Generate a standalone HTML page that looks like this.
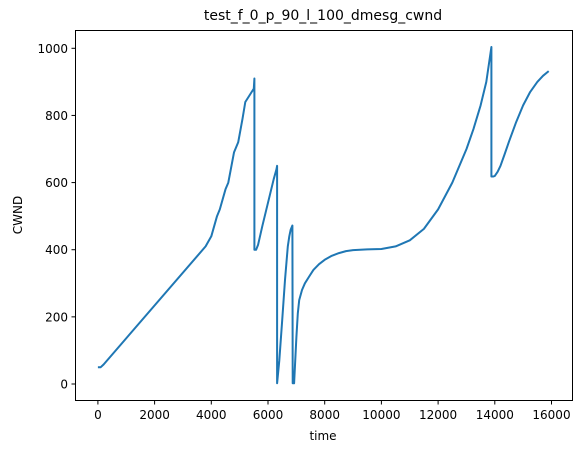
<!DOCTYPE html>
<html><head><meta charset="utf-8"><style>
html,body{margin:0;padding:0;background:#fff;}
svg text{font-family:"DejaVu Sans","Liberation Sans",sans-serif;fill:#000;}
</style></head><body>
<svg id="chart" width="582" height="453" viewBox="0 0 582 453" xmlns="http://www.w3.org/2000/svg">
<text x="323" y="20" font-size="14" text-anchor="middle">test_f_0_p_90_l_100_dmesg_cwnd</text>
<rect x="75.5" y="30.5" width="497" height="370" fill="none" stroke="#000" stroke-width="1"/>
<g id="xt"></g><g id="yt"></g>
<path id="line" fill="none" stroke="#1f77b4" stroke-width="2" stroke-linejoin="round"/>
<text x="323" y="440" font-size="12" text-anchor="middle">time</text>
<text x="0" y="0" font-size="12" text-anchor="middle" transform="translate(22,215) rotate(-90)">CWND</text>
</svg>
<script>
const times=[0,100,200,3800,4000,4200,4300,4500,4600,4800,4950,5100,5200,5500,5520,5520,5580,5650,5800,6000,6200,6300,6320,6320,6400,6500,6600,6700,6750,6800,6860,6870,6920,6950,7000,7050,7100,7200,7300,7450,7600,7800,8000,8250,8500,8750,9000,9500,10000,10500,11000,11500,12000,12500,13000,13250,13500,13700,13880,13880,13950,14000,14100,14200,14350,14500,14750,15000,15250,15500,15700,15900];
const cwnd=[50,50,58,410,440,500,520,580,600,690,720,790,840,880,910,400,400,415,470,540,610,640,650,2,70,190,310,410,440,460,472,2,2,50,140,210,250,280,300,320,340,357,370,382,390,396,399,401,402,410,428,462,520,600,700,760,830,900,1004,618,618,620,632,650,685,722,780,830,870,900,918,932];
const xTicks=[0,2000,4000,6000,8000,10000,12000,14000,16000];
const yTicks=[0,200,400,600,800,1000];
const sx=v=>97.9+v*0.028350;
const sy=v=>384-v*0.3357;
const NS="http://www.w3.org/2000/svg";
const xt=document.getElementById('xt'),yt=document.getElementById('yt');
xTicks.forEach(t=>{
 const l=document.createElementNS(NS,'line');
 
 
 l.setAttribute('x1',sx(t));l.setAttribute('x2',sx(t));l.setAttribute('y1',400.5);l.setAttribute('y2',404.5);l.setAttribute('stroke','#000');
 xt.appendChild(l);
 const tx=document.createElementNS(NS,'text');
 
 
 tx.setAttribute('x',sx(t));tx.setAttribute('y',419);tx.setAttribute('font-size','12');tx.setAttribute('text-anchor','middle');
 tx.textContent=t;xt.appendChild(tx);
});
yTicks.forEach(t=>{
 const l=document.createElementNS(NS,'line');
 
 
 l.setAttribute('x1',71.5);l.setAttribute('x2',75.5);l.setAttribute('y1',sy(t));l.setAttribute('y2',sy(t));l.setAttribute('stroke','#000');
 yt.appendChild(l);
 const tx=document.createElementNS(NS,'text');
 
 
 tx.setAttribute('x',68);tx.setAttribute('y',sy(t)+4.5);tx.setAttribute('font-size','12');tx.setAttribute('text-anchor','end');
 tx.textContent=t;yt.appendChild(tx);
});
document.getElementById('line').setAttribute('d',times.map((t,i)=>(i?'L':'M')+sx(t).toFixed(1)+','+sy(cwnd[i]).toFixed(1)).join(' '));
</script>
</body></html>
